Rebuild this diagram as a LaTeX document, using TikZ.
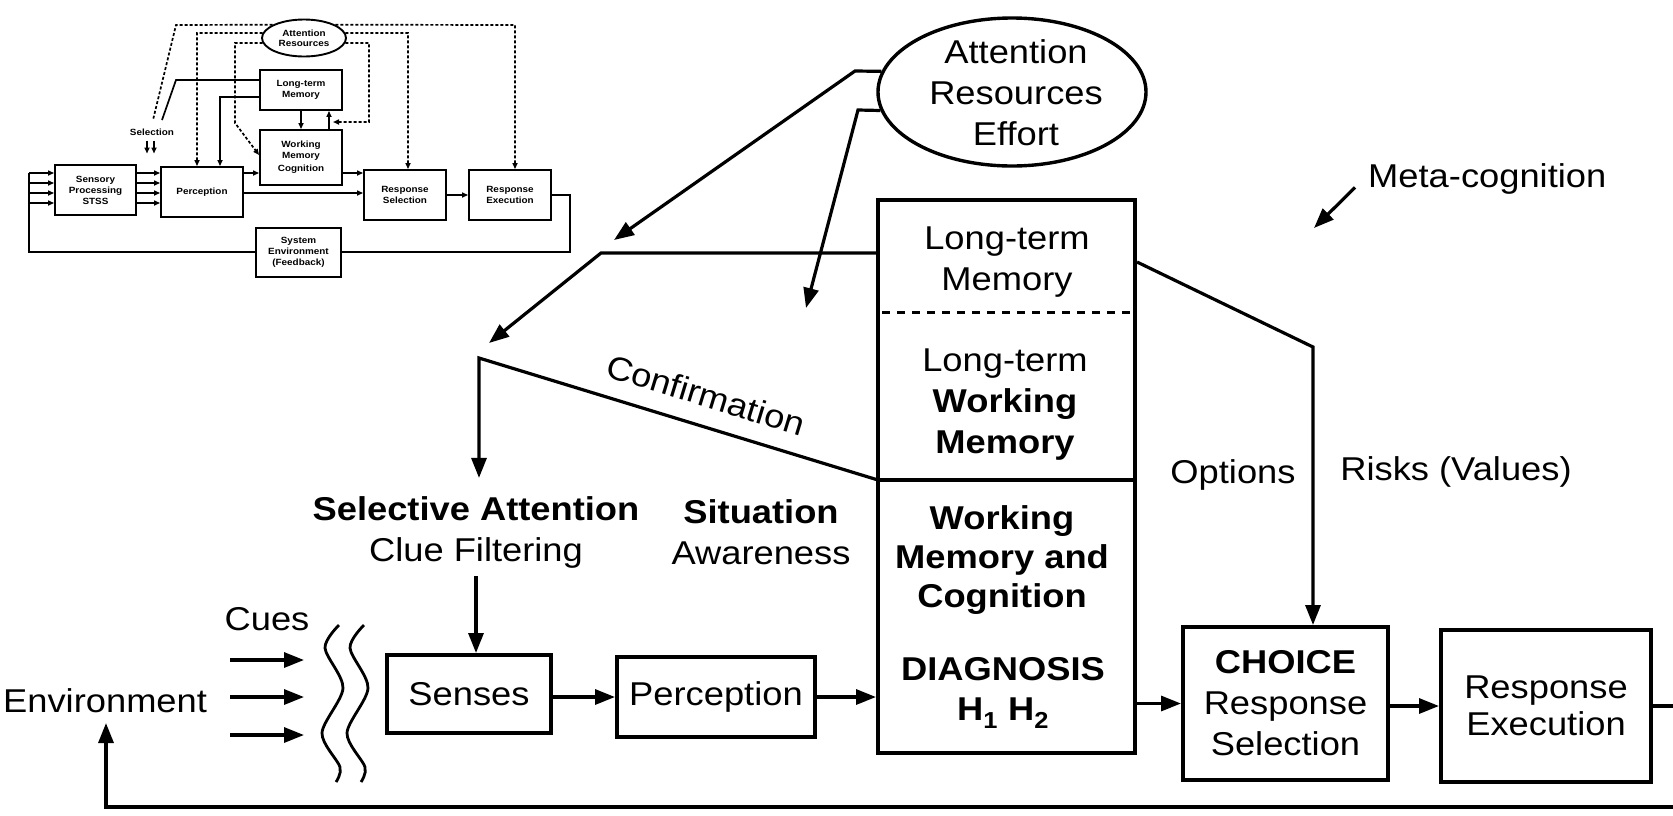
\documentclass[tikz,border=0pt]{standalone}
\usepackage{fontspec}
\setmainfont{Liberation Sans}[FakeStretch=1.1]
\usetikzlibrary{arrows.meta,shapes.geometric}
\begin{document}
\begin{tikzpicture}[x=1pt,y=-1pt,
  every node/.style={inner sep=0pt},
  mtxt/.style={font=\fontsize{33}{41}\selectfont, align=center},
  mbox/.style={draw, line width=4pt, rectangle},
  conn/.style={line width=3.2pt},
  arr/.style={conn, -{Triangle[length=20pt,width=15pt]}},
  ibox/.style={draw, line width=1.9pt, rectangle, font=\fontsize{9}{11}\selectfont\bfseries, align=center},
  iln/.style={line width=1.7pt},
  idsh/.style={line width=1.7pt, dash pattern=on 3pt off 2pt},
  iarr/.style={-{Triangle[length=6pt,width=5pt]}}
]
\fill[white] (0,0) rectangle (1673,815);
\path[use as bounding box] (0,0) rectangle (1673,815);

% ---------------- inset (small model) ----------------
\node[draw, ellipse, line width=1.9pt, minimum width=84pt, minimum height=37pt,
      font=\fontsize{9}{10}\selectfont\bfseries, align=center] (iatt) at (304,38) {Attention\\Resources};
\node[ibox, minimum width=82pt, minimum height=40pt] (iltm) at (301,90) {Long-term\\Memory};
\node[ibox, minimum width=82pt, minimum height=55pt] (iwm) at (301,157.5) {Working\\Memory\\[2pt]Cognition};
\node[ibox, minimum width=81pt, minimum height=50pt] (isp) at (95.5,190) {Sensory\\Processing\\STSS};
\node[ibox, minimum width=82pt, minimum height=50pt] (iper) at (202,192) {Perception};
\node[ibox, minimum width=82pt, minimum height=50pt] (irs) at (405,195) {Response\\Selection};
\node[ibox, minimum width=82pt, minimum height=50pt] (irx) at (510,195) {Response\\Execution};
\node[ibox, minimum width=85pt, minimum height=49pt] (isys) at (298.5,252.5) {System\\Environment\\(Feedback)};
\node[font=\fontsize{9}{10}\selectfont\bfseries] (isel) at (152,132) {Selection};

% feedback loop
\coordinate (ifr) at (570,195);
\coordinate (ifb) at (570,252);
\coordinate (ifl) at (29,252);
\coordinate (iflt) at (29,173);
\draw[iln] (irx.east) -- (ifr) -- (ifb) -- (isys.east |- ifb);
\draw[iln] (isys.west |- ifl) -- (ifl) -- (iflt);
\foreach \yy in {173,183,193,203}{
  \draw[iln,iarr] (29,\yy) -- (isp.west |- 0,\yy);
  \draw[iln,iarr] (isp.east |- 0,\yy) -- (iper.west |- 0,\yy);
}
\draw[iln,iarr] (iper.east |- 0,173) -- (iwm.west |- 0,173);
\draw[iln,iarr] (iper.east |- 0,193) -- (irs.west |- 0,193);
\draw[iln,iarr] (iwm.east |- 0,173) -- (irs.west |- 0,173);
\draw[iln,iarr] (irs.east) -- (irx.west);
\draw[iln,iarr] (iltm.south) -- (iwm.north);
\draw[iln,iarr] (iwm.north -| 329,0) -- (iltm.south -| 329,0);
% solid lines from long-term memory
\coordinate (ia1) at (176,80);
\coordinate (ia2) at (162,120);
\draw[iln] (iltm.west |- ia1) -- (ia1) -- (ia2);
\coordinate (ib1) at (220,97);
\draw[iln,iarr] (iltm.west |- ib1) -- (ib1) -- (ib1 |- iper.north);
% dashed attention lines
\coordinate (id1) at (176,25);
\coordinate (id2) at (153,120);
\draw[idsh] (iatt.157) -- (id1) -- (id2);
\coordinate (ie1) at (197,33);
\draw[idsh,iarr] (iatt.173) -- (ie1) -- (ie1 |- iper.north);
\coordinate (if1) at (235,43);
\coordinate (if2) at (235,123);
\draw[idsh,iarr] (iatt.187) -- (if1) -- (if2) -- (iwm.west |- 0,155);
\coordinate (ig1) at (515,25);
\draw[idsh,iarr] (iatt.23) -- (ig1) -- (ig1 |- irx.north);
\coordinate (ih1) at (408,33);
\draw[idsh,iarr] (iatt.7) -- (ih1) -- (ih1 |- irs.north);
\coordinate (ii1) at (369,43);
\coordinate (ii2) at (369,122);
\coordinate (ii3) at (333,122);
\draw[idsh,iarr] (iatt.-7) -- (ii1) -- (ii2) -- (ii3);
\draw[iln,iarr] ([xshift=-5pt,yshift=-5pt]isel.south) -- ++(0,13);
\draw[iln,iarr] ([xshift=2pt,yshift=-5pt]isel.south) -- ++(0,13);

% ---------------- main diagram ----------------
\node[draw, ellipse, line width=3.4pt, minimum width=268pt, minimum height=148pt] (att) at (1012,92) {};
\node[mtxt] (atttxt) at (1016,93) {Attention\\Resources\\Effort};
\node[mtxt, anchor=base west] (meta) at (1368,187) {Meta-cognition};

\node[mbox, minimum width=257pt, minimum height=553pt] (wm) at (1006.5,476.5) {};
\node[mtxt] (ltmtxt) at (1007,262) {Long-term\\Memory};
\node[mtxt] (ltwmtxt) at (1005,405) {Long-term\\\textbf{Working}\\\textbf{Memory}};
\node[mtxt, font=\fontsize{33}{39}\selectfont\bfseries] (wmtxt) at (1002,560) {Working\\Memory and\\Cognition};
\node[mtxt, font=\fontsize{33}{40}\selectfont\bfseries] (diag) at (1003,693) {DIAGNOSIS\\H\textsubscript{1} H\textsubscript{2}};
\coordinate (dl) at (878,312);
\draw[line width=3pt, dash pattern=on 8pt off 7pt] ([xshift=6pt]wm.west |- dl) -- ([xshift=-6pt]wm.east |- dl);
\coordinate (cfj) at (878,480);
\draw[conn] (cfj) -- (cfj -| wm.east);

\node[mtxt] (sat) at (476,532) {\textbf{Selective Attention}\\Clue Filtering};
\node[mtxt] (sit) at (761,532) {\textbf{Situation}\\Awareness};
\node[mtxt, rotate=-17] (conf) at (706,395) {Confirmation};

\node[mbox, mtxt, minimum width=164pt, minimum height=78pt] (sen) at (469,694) {Senses};
\node[mbox, mtxt, minimum width=198pt, minimum height=80pt] (per) at (716,697) {Perception};
\node[mbox, mtxt, minimum width=205pt, minimum height=153pt] (cho) at (1285.5,703.5) {\textbf{CHOICE}\\Response\\Selection};
\node[mbox, mtxt, minimum width=210pt, minimum height=152pt, font=\fontsize{33}{37}\selectfont] (rex) at (1546,706) {Response\\Execution};

\node[mtxt, anchor=base west] (env) at (3,712) {Environment};
\node[mtxt, anchor=base] (cues) at (267,630) {Cues};
\node[mtxt, anchor=base] (opt) at (1233,483) {Options};
\node[mtxt, anchor=base] (risk) at (1456,480) {Risks (Values)};

% cue arrows
\foreach \n/\yy in {1/660,2/697,3/735}{
  \coordinate (cs\n) at (230,\yy);
  \coordinate (ce\n) at (304,\yy);
  \draw[arr] (cs\n) -- (ce\n);
}
% wavy barriers
\draw[line width=2.8pt] plot[smooth] coordinates {(339,625) (325,648) (343,688) (322,733) (340,767) (336,782)};
\draw[line width=2.8pt] plot[smooth] coordinates {(364,625) (350,648) (368,688) (347,733) (365,767) (361,782)};

% main flow
\draw[arr] (sen.east |- per.west) -- (per.west);
\draw[arr] (per.east) -- (per.east -| wm.west);
\draw[arr] (wm.east |- cho.west) -- (cho.west);
\draw[arr] (cho.east |- rex.west) -- (rex.west);
\coordinate (rexout) at (1673,706);
\draw[conn] (rex.east) -- (rexout);
\coordinate (fbr) at (1673,807);
\coordinate (envin) at (106,723);
\draw[arr] (fbr) -| (envin);

% selective attention to senses
\draw[arr] ([yshift=-8pt]sat.south) -- (sat.south |- sen.north);

% confirmation
\coordinate (ca) at (479,358);
\draw[arr, shorten >=18pt] (cfj) -- (ca) -- (ca |- sat.north);

% long-term memory to selective attention
\coordinate (ltk) at (601,253);
\coordinate (lttip) at (489,343);
\draw[arr] (wm.west |- ltk) -- (ltk) -- (lttip);

% attention resources arrows
\coordinate (e1k) at (855,71);
\coordinate (e1tip) at (614,240);
\draw[arr] (att.171) -- (e1k) -- (e1tip);
\coordinate (e2k) at (858,110);
\coordinate (e2tip) at (806,308);
\draw[arr] (att.188) -- (e2k) -- (e2tip);

% long-term memory to choice
\coordinate (rsy) at (0,262);
\coordinate (rk) at (1313,347);
\draw[arr] (wm.east |- rsy) -- (rk) -- (rk |- cho.north);

% meta-cognition
\coordinate (mtip) at (1314,228);
\draw[arr] ([xshift=-13pt,yshift=-9pt]meta.west) -- (mtip);
\end{tikzpicture}
\end{document}
